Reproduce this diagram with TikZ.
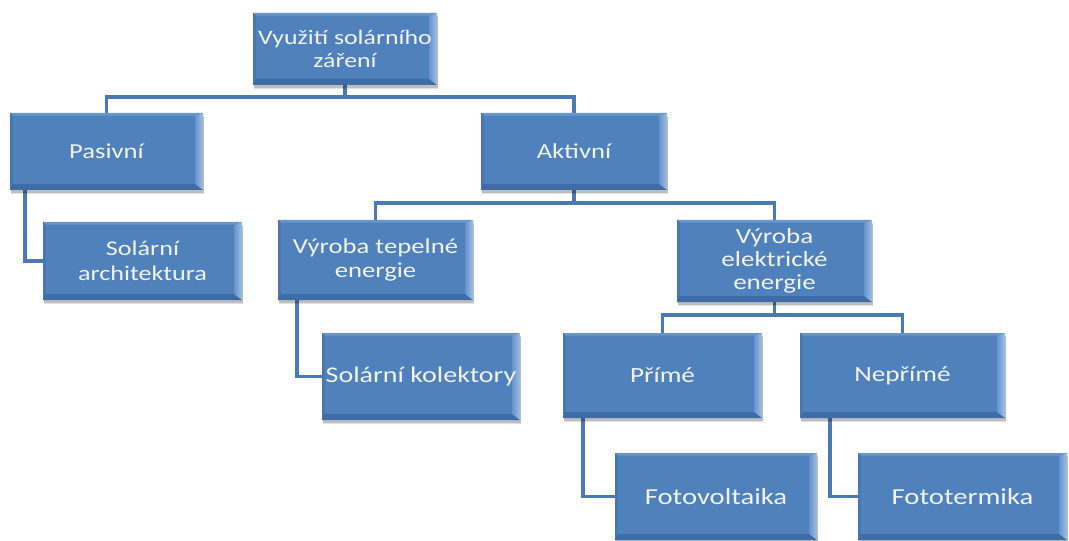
\documentclass[tikz,border=0pt]{standalone}
\usepackage{fontspec}
\setmainfont{Carlito}[FakeStretch=1.25]
\usetikzlibrary{calc,shadows}
\definecolor{faceblue}{HTML}{4F81BD}
\definecolor{bevR}{HTML}{9DBFE8}
\definecolor{bevT}{HTML}{6A96CC}
\definecolor{bevB}{HTML}{3D6CA6}
\definecolor{bevL}{HTML}{4776B0}
\definecolor{connblue}{HTML}{4A7AB5}
\definecolor{txt}{HTML}{F2F2F2}
\pgfdeclarelayer{bg}
\pgfdeclarelayer{conns}
\pgfsetlayers{bg,conns,main}
\tikzset{
  sz/.style 2 args={minimum width=#1*0.75pt, minimum height=#2*0.75pt},
  fs/.style={font=\fontsize{#1}{#1*1.1}\selectfont},
  box/.style={rectangle, fill=faceblue, text=txt, inner sep=0pt, align=center,
    font=\fontsize{16}{17.6}\selectfont,
    drop shadow={shadow xshift=0.6pt, shadow yshift=-3.2pt, fill=black, opacity=0.12},
    drop shadow={shadow xshift=0.6pt, shadow yshift=-2pt, fill=black, opacity=0.15},
    path picture={
      \fill[bevT] (path picture bounding box.north west) -- (path picture bounding box.north east)
        -- ([xshift=-6pt,yshift=-2pt]path picture bounding box.north east)
        -- ([xshift=2pt,yshift=-2pt]path picture bounding box.north west) -- cycle;
      \fill[bevL] (path picture bounding box.north west) -- (path picture bounding box.south west)
        -- ([xshift=2pt,yshift=4.5pt]path picture bounding box.south west)
        -- ([xshift=2pt,yshift=-2pt]path picture bounding box.north west) -- cycle;
      \fill[bevB] (path picture bounding box.south west) -- (path picture bounding box.south east)
        -- ([xshift=-6pt,yshift=4.5pt]path picture bounding box.south east)
        -- ([xshift=2pt,yshift=4.5pt]path picture bounding box.south west) -- cycle;
      \shade[left color=faceblue!70!bevR, right color=bevR] (path picture bounding box.north east) -- (path picture bounding box.south east)
        -- ([xshift=-6pt,yshift=4.5pt]path picture bounding box.south east)
        -- ([xshift=-6pt,yshift=-2pt]path picture bounding box.north east) -- cycle;
    }},
  conn/.style={draw=connblue, line width=2.8pt}
}
\begin{document}
\begin{tikzpicture}[x=0.75pt,y=-0.75pt]
\begin{pgfonlayer}{bg}
\fill[white] (0,0) rectangle (1069,541);
\end{pgfonlayer}
\useasboundingbox (0,0) rectangle (1069,541);

\node[box, sz={184}{72}, font=\fontsize{15.5}{17}\selectfont] (top) at (345,49) {Využití solárního\\záření};
\node[box, sz={193}{77}] (pas) at (106.5,151.5) {Pasivní};
\node[box, sz={186}{77}] (akt) at (574,151.5) {Aktivní};
\node[box, sz={199}{78}, font=\fontsize{15.7}{18.5}\selectfont] (arch) at (142.5,261) {Solární\\architektura};
\node[box, sz={195}{80}, font=\fontsize{16}{18}\selectfont] (tep) at (375.5,260) {Výroba tepelné\\energie};
\node[box, sz={195}{82}, font=\fontsize{16.2}{17.5}\selectfont] (el) at (774.5,261) {Výroba\\elektrické\\energie};
\node[box, sz={198}{87}, font=\fontsize{16.8}{18}\selectfont] (kol) at (421,376.5) {Solární kolektory};
\node[box, sz={199}{85}, font=\fontsize{16.3}{18}\selectfont] (prime) at (662.5,375.5) {Přímé};
\node[box, sz={205}{85}, font=\fontsize{16.3}{18}\selectfont] (neprime) at (902.5,375.5) {Nepřímé};
\node[box, sz={202}{87}, font=\fontsize{17.2}{19}\selectfont] (fv) at (716,496.5) {Fotovoltaika};
\node[box, sz={209}{87}, font=\fontsize{17.2}{19}\selectfont] (ft) at (962.5,496.5) {Fototermika};

\begin{pgfonlayer}{conns}
\draw[conn] (top.south) -- ++(0,12) -| (pas.north);
\draw[conn] (top.south) -- ++(0,12) -| (akt.north);
\draw[conn] (akt.south) -- ++(0,13) -| (tep.north);
\draw[conn] (akt.south) -- ++(0,13) -| (el.north);
\draw[conn] (el.south) -- ++(0,13) -| (prime.north);
\draw[conn] (el.south) -- ++(0,13) -| (neprime.north);
\draw[conn] ($(pas.south west)+(15,0)$) |- (arch.west);
\draw[conn] ($(tep.south west)+(19,0)$) |- (kol.west);
\draw[conn] ($(prime.south west)+(20,0)$) |- (fv.west);
\draw[conn] ($(neprime.south west)+(30,0)$) |- (ft.west);
\end{pgfonlayer}
\end{tikzpicture}
\end{document}
